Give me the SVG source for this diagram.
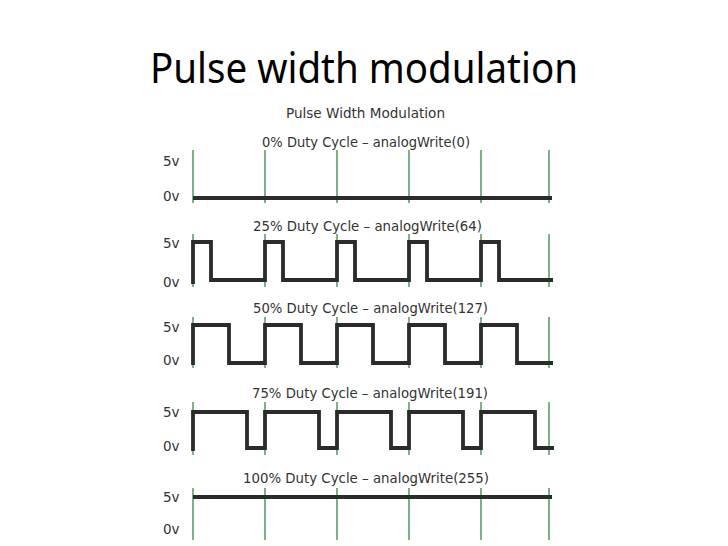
<svg xmlns="http://www.w3.org/2000/svg" width="728" height="546" viewBox="0 0 728 546">
<style>
.title{font-family:"Noto Sans","Open Sans",sans-serif;font-size:42px;fill:#000}
.lbl{font-family:"DejaVu Sans","Noto Sans",sans-serif;font-size:13.5px;fill:#333}
.ax{font-family:"DejaVu Sans","Noto Sans",sans-serif;font-size:13.5px;fill:#333}
.grid line{stroke:#5a9e68;stroke-width:1.6}
.wave{fill:none;stroke:#2b2b2b;stroke-width:3.8;stroke-linejoin:miter;stroke-linecap:butt}
</style>
<rect width="728" height="546" fill="#fff"/>
<text class="title" x="150" y="83" textLength="428" lengthAdjust="spacingAndGlyphs">Pulse width modulation</text>
<text class="lbl" x="286" y="118" textLength="159" lengthAdjust="spacingAndGlyphs">Pulse Width Modulation</text>

<g id="panel-0">
<text class="lbl" x="262" y="147" textLength="208" lengthAdjust="spacingAndGlyphs">0% Duty Cycle – analogWrite(0)</text>
<text class="ax" x="163" y="166">5v</text>
<text class="ax" x="163" y="201">0v</text>
<g class="grid"><line x1="193" y1="150" x2="193" y2="203"/><line x1="265" y1="150" x2="265" y2="203"/><line x1="337" y1="150" x2="337" y2="203"/><line x1="409" y1="150" x2="409" y2="203"/><line x1="481" y1="150" x2="481" y2="203"/><line x1="549" y1="150" x2="549" y2="203"/></g>
<path class="wave" d="M193 198H552"/>
</g>

<g id="panel-25">
<text class="lbl" x="253" y="231" textLength="229" lengthAdjust="spacingAndGlyphs">25% Duty Cycle – analogWrite(64)</text>
<text class="ax" x="163" y="248">5v</text>
<text class="ax" x="163" y="287">0v</text>
<g class="grid"><line x1="193" y1="234" x2="193" y2="287"/><line x1="265" y1="234" x2="265" y2="287"/><line x1="337" y1="234" x2="337" y2="287"/><line x1="409" y1="234" x2="409" y2="287"/><line x1="481" y1="234" x2="481" y2="287"/><line x1="549" y1="234" x2="549" y2="287"/></g>
<path class="wave" d="M193 284V242H211V280H265V242H283V280H337V242H355V280H409V242H427V280H481V242H499V280H553"/>
</g>

<g id="panel-50">
<text class="lbl" x="253" y="313" textLength="235" lengthAdjust="spacingAndGlyphs">50% Duty Cycle – analogWrite(127)</text>
<text class="ax" x="163" y="332">5v</text>
<text class="ax" x="163" y="365">0v</text>
<g class="grid"><line x1="193" y1="317" x2="193" y2="368"/><line x1="265" y1="317" x2="265" y2="368"/><line x1="337" y1="317" x2="337" y2="368"/><line x1="409" y1="317" x2="409" y2="368"/><line x1="481" y1="317" x2="481" y2="368"/><line x1="549" y1="317" x2="549" y2="368"/></g>
<path class="wave" d="M193 365V325H229V363H265V325H301V363H337V325H373V363H409V325H445V363H481V325H517V363H553"/>
</g>

<g id="panel-75">
<text class="lbl" x="252" y="398" textLength="236" lengthAdjust="spacingAndGlyphs">75% Duty Cycle – analogWrite(191)</text>
<text class="ax" x="163" y="417">5v</text>
<text class="ax" x="163" y="451">0v</text>
<g class="grid"><line x1="193" y1="402" x2="193" y2="455"/><line x1="265" y1="402" x2="265" y2="455"/><line x1="337" y1="402" x2="337" y2="455"/><line x1="409" y1="402" x2="409" y2="455"/><line x1="481" y1="402" x2="481" y2="455"/><line x1="549" y1="402" x2="549" y2="455"/></g>
<path class="wave" d="M193 451V412H247V448H265V412H319V448H337V412H391V448H409V412H463V448H481V412H535V448H554"/>
</g>

<g id="panel-100">
<text class="lbl" x="243" y="483" textLength="246" lengthAdjust="spacingAndGlyphs">100% Duty Cycle – analogWrite(255)</text>
<text class="ax" x="163" y="502">5v</text>
<text class="ax" x="163" y="534">0v</text>
<g class="grid"><line x1="193" y1="488" x2="193" y2="540"/><line x1="265" y1="488" x2="265" y2="540"/><line x1="337" y1="488" x2="337" y2="540"/><line x1="409" y1="488" x2="409" y2="540"/><line x1="481" y1="488" x2="481" y2="540"/><line x1="549" y1="488" x2="549" y2="540"/></g>
<path class="wave" d="M193 497H552"/>
</g>
<g id="connectors"/>
</svg>
